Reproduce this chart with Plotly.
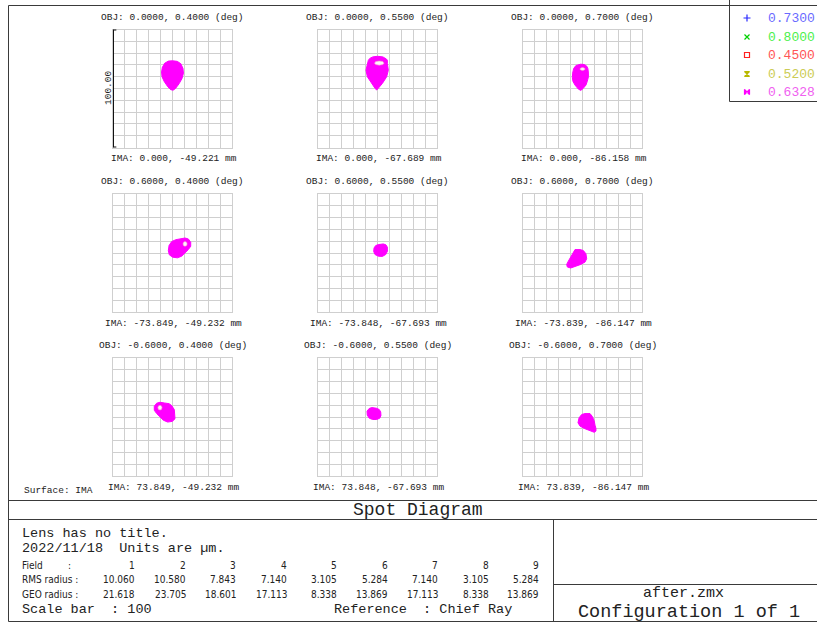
import plotly.graph_objects as go

W, H = 817, 623

# ---------------- data ----------------
obj_titles = [
    "OBJ: 0.0000, 0.4000 (deg)", "OBJ: 0.0000, 0.5500 (deg)", "OBJ: 0.0000, 0.7000 (deg)",
    "OBJ: 0.6000, 0.4000 (deg)", "OBJ: 0.6000, 0.5500 (deg)", "OBJ: 0.6000, 0.7000 (deg)",
    "OBJ: -0.6000, 0.4000 (deg)", "OBJ: -0.6000, 0.5500 (deg)", "OBJ: -0.6000, 0.7000 (deg)",
]
ima_titles = [
    "IMA: 0.000, -49.221 mm", "IMA: 0.000, -67.689 mm", "IMA: 0.000, -86.158 mm",
    "IMA: -73.849, -49.232 mm", "IMA: -73.848, -67.693 mm", "IMA: -73.839, -86.147 mm",
    "IMA: 73.849, -49.232 mm", "IMA: 73.848, -67.693 mm", "IMA: 73.839, -86.147 mm",
]

# spot outlines (µm, relative to chief ray)
spot1_x = [0, 4, 7, 8.8, 9.2, 8, 5.5, 2.5, 0.5, -1.5, -4, -7, -8.8, -9.2, -8.5, -6.5, -3.5]
spot1_y = [23.5, 23, 21, 17, 13, 8.5, 4, 0, -1.4, -1, 1.5, 6, 10, 14, 18, 21.5, 23.2]
spot2_x = [0, 4.5, 7.5, 8.3, 8.3, 9.1, 7.7, 4.1, 0.5, -0.7, -2, -4.9, -8.5, -9.7, -8.5, -7.7, -6.5, -4]
spot2_y = [27.3, 26.8, 25, 23.9, 21.1, 15.5, 9.9, 4.3, 0, -1.3, 0, 4.3, 9.9, 15.5, 21.1, 23.9, 25.5, 26.8]
spot3_x = [-1.5, 1.5, 3.5, 4.5, 4.9, 5, 4, 2.9, 0.5, -1.5, -3.5, -6.3, -8, -8.5, -8.3, -7.4, -5.5, -3.5]
spot3_y = [20.6, 20.3, 19, 17, 14, 10, 6, 2.9, 0, -1.6, -0.5, 2.9, 6, 9, 13, 17, 19.5, 20.4]
spot4_x = [10.5, 13.3, 15.3, 15.3, 13.3, 10.5, 7.7, 4.1, 0.1, -2.7, -3.5, -2.9, -0.7, 2.9, 6.9]
spot4_y = [12.7, 11.9, 9.1, 5.7, 2.9, 0.1, -2.7, -4.1, -3.5, -1.5, 2.1, 6.3, 9.7, 11.3, 11.9]
spot5_x = [0.7, 4.9, 7.1, 8.3, 8.3, 6.9, 4.1, 0.7, -2.1, -3.2, -2.9, -1.5]
spot5_y = [7.1, 7.7, 6.9, 4.9, 1.5, -1.3, -2.9, -2.7, -1.3, 1.3, 4.3, 6.3]
spot6_x = [-6.3, -2.1, 0.7, 2.9, 3.5, 2.1, -1.5, -6.3, -9.9, -12.7, -13.3, -11.9, -9.9, -8.3]
spot6_y = [2.9, 2.9, 2.1, -0.7, -4.9, -7.7, -9.7, -11.3, -12.7, -11.9, -9.7, -6.9, -3.5, 0.4]
spot7_x = [-10.5, -13.3, -15.3, -15.3, -13.3, -10.5, -7.7, -4.1, -0.1, 2.1, 2.1, 1.5, -0.7, -2.9, -6.9]
spot7_y = [12.5, 11.7, 9.1, 5.7, 2.9, 0.1, -2.7, -4.3, -3.7, -1.5, 2.1, 6.3, 9.7, 11.3, 11.9]
spot8_x = [-0.7, -4.9, -7.1, -8.8, -8.6, -6.9, -4.1, -0.7, 1.9, 2.9, 2.7, 1.5]
spot8_y = [7.4, 8.0, 7.1, 4.9, 1.5, -1.0, -2.1, -2.1, -1.0, 1.3, 4.3, 6.3]
spot9_x = [6.3, 2.1, -0.7, -2.9, -3.8, -2.1, 1.5, 6.3, 9.9, 11.3, 11.3, 10.5, 9.9, 8.3]
spot9_y = [2.9, 2.9, 2.1, -0.7, -4.9, -7.7, -9.7, -11.3, -13.0, -11.9, -9.7, -6.9, -3.5, 0.4]

# white gaps inside the ring-shaped spots
hole2_x = [-2.5, -1.5, 1.5, 4.5, 5.5, 4.5, 1.5, -1.5]
hole2_y = [21.5, 22.8, 23.3, 22.8, 21.5, 20.3, 19.8, 20.3]
hole3_x = [-2.2, -1.5, 0, 1.5, 2.2, 1.5, 0, -1.5]
hole3_y = [16.5, 17.4, 17.7, 17.4, 16.5, 15.6, 15.3, 15.6]
hole4_x = [9.3, 10.5, 11.8, 12.3, 11.8, 10.5, 9.3, 8.8]
hole4_y = [9.2, 9.7, 9.2, 7.7, 6.2, 5.7, 6.2, 7.7]
hole7_x = [-9.3, -10.5, -11.8, -12.3, -11.8, -10.5, -9.3, -8.8]
hole7_y = [9.4, 9.9, 9.4, 7.9, 6.4, 5.9, 6.4, 7.9]

field_numbers = ["1", "2", "3", "4", "5", "6", "7", "8", "9"]
rms_radius = ["10.060", "10.580", "7.843", "7.140", "3.105", "5.284", "7.140", "3.105", "5.284"]
geo_radius = ["21.618", "23.705", "18.601", "17.113", "8.338", "13.869", "17.113", "8.338", "13.869"]

wavelengths = ["0.7300", "0.8000", "0.4500", "0.5200", "0.6328"]
wave_text_colors = ["#6a6aff", "#4cf04c", "#ff5555", "#cccc55", "#f060f0"]
wave_mark_colors = ["#2828ff", "#00d000", "#ff2020", "#b8b800", "#ff00ff"]
wave_symbols = ["cross-thin", "x-thin", "square-open", "hourglass", "bowtie"]

spots = [
    (spot1_x, spot1_y, [], []),
    (spot2_x, spot2_y, hole2_x, hole2_y),
    (spot3_x, spot3_y, hole3_x, hole3_y),
    (spot4_x, spot4_y, hole4_x, hole4_y),
    (spot5_x, spot5_y, [], []),
    (spot6_x, spot6_y, [], []),
    (spot7_x, spot7_y, hole7_x, hole7_y),
    (spot8_x, spot8_y, [], []),
    (spot9_x, spot9_y, [], []),
]

# ---------------- layout geometry (pixels) ----------------
col_x = [(113, 232), (318, 437), (523, 642)]
row_y = [(29.5, 147.5), (194, 312), (358, 476)]
MONO = "Liberation Mono, Courier New, monospace"
TXT = "#222222"

fig = go.Figure()
layout = dict(width=W, height=H, margin=dict(l=0, r=0, t=0, b=0),
              paper_bgcolor="white", plot_bgcolor="rgba(0,0,0,0)",
              showlegend=False, annotations=[], shapes=[])

for i in range(9):
    r, c = divmod(i, 3)
    x0, x1 = col_x[c]
    y0, y1 = row_y[r]
    xa = "xaxis" if i == 0 else f"xaxis{i+1}"
    ya = "yaxis" if i == 0 else f"yaxis{i+1}"
    xr = "x" if i == 0 else f"x{i+1}"
    yr = "y" if i == 0 else f"y{i+1}"
    common = dict(range=[-50, 50], tick0=-50, dtick=10, showgrid=True, gridcolor="#cfcfcf",
                  gridwidth=1, zeroline=False, showline=True, linecolor="#cfcfcf", mirror=True,
                  showticklabels=False, ticks="", fixedrange=True)
    layout[xa] = dict(domain=[x0 / W, x1 / W], anchor=yr, **common)
    layout[ya] = dict(domain=[1 - y1 / H, 1 - y0 / H], anchor=xr, **common)
    sx, sy, hx, hy = spots[i]
    fig.add_trace(go.Scatter(x=sx + sx[:1], y=sy + sy[:1], mode="lines", fill="toself",
                             fillcolor="#ff00ff", line=dict(color="#ff00ff", width=1),
                             xaxis=xr, yaxis=yr, hoverinfo="skip"))
    if hx:
        fig.add_trace(go.Scatter(x=hx + hx[:1], y=hy + hy[:1], mode="lines", fill="toself",
                                 fillcolor="#fff0fa", line=dict(color="#f0a0c8", width=0.6),
                                 xaxis=xr, yaxis=yr, hoverinfo="skip"))
    cx = (x0 + x1) / 2
    layout["annotations"].append(dict(x=cx, y=y0 - 12.5, xref="x10", yref="y10", text=obj_titles[i],
                                      showarrow=False, xanchor="center", yanchor="middle",
                                      font=dict(family=MONO, size=9.5, color=TXT)))
    layout["annotations"].append(dict(x=cx + 1, y=y1 + 11, xref="x10", yref="y10", text=ima_titles[i],
                                      showarrow=False, xanchor="center", yanchor="middle",
                                      font=dict(family=MONO, size=9.5, color=TXT)))

# overlay axis in pixel units
layout["xaxis10"] = dict(domain=[0, 1], range=[0, W], visible=False, fixedrange=True, anchor="y10")
layout["yaxis10"] = dict(domain=[0, 1], range=[H, 0], visible=False, fixedrange=True, anchor="x10")

# scale bar on first plot
sb = dict(type="line", xref="x", yref="y", line=dict(color="#111111", width=2))
layout["shapes"].append(dict(sb, x0=-50, x1=-50, y0=-50, y1=50))
layout["shapes"].append(dict(sb, x0=-52.8, x1=-47.2, y0=50, y1=50))
layout["shapes"].append(dict(sb, x0=-52.8, x1=-47.2, y0=-50, y1=-50))
layout["annotations"].append(dict(x=108, y=88, xref="x10", yref="y10", text="100.00", textangle=-90,
                                  showarrow=False, font=dict(family=MONO, size=9.5, color=TXT)))

layout["annotations"].append(dict(x=22, y=490, xref="x10", yref="y10", text="Surface: IMA",
                                  showarrow=False, xanchor="left", yanchor="middle",
                                  font=dict(family=MONO, size=9.5, color=TXT)))

# frame lines
def hline(y, xa, xb):
    return dict(type="line", xref="x10", yref="y10", x0=xa, x1=xb, y0=y, y1=y,
                line=dict(color="#3a3a3a", width=1))

def vline(x, ya, yb):
    return dict(type="line", xref="x10", yref="y10", x0=x, x1=x, y0=ya, y1=yb,
                line=dict(color="#3a3a3a", width=1))

layout["shapes"] += [
    hline(5.5, 8.5, 820), vline(8.5, 5.5, 621.5), hline(621.5, 8.5, 820),
    hline(500.5, 8.5, 820), hline(519.5, 8.5, 820), vline(553.5, 519.5, 621.5),
    hline(584.5, 553.5, 820),
]

# legend box
layout["shapes"].append(dict(type="rect", xref="x10", yref="y10", x0=729.5, x1=830, y0=-2, y1=101.5,
                             fillcolor="white", layer="below", line=dict(color="#3a3a3a", width=1)))
leg_y = [18, 37, 55, 74, 92]
fig.add_trace(go.Scatter(x=[747] * 5, y=leg_y, mode="markers", xaxis="x10", yaxis="y10",
                         marker=dict(symbol=wave_symbols, size=5, color=wave_mark_colors,
                                     line=dict(color=wave_mark_colors, width=1.2)),
                         hoverinfo="skip"))
for k in range(5):
    layout["annotations"].append(dict(x=766, y=leg_y[k], xref="x10", yref="y10", text=wavelengths[k],
                                      showarrow=False, xanchor="left", yanchor="middle",
                                      font=dict(family=MONO, size=13, color=wave_text_colors[k])))

# bottom text block
def txt(x, y, s, size, anchor="left", fam=MONO):
    return dict(x=x, y=y, xref="x10", yref="y10", text=s, showarrow=False, xanchor=anchor,
                yanchor="middle", font=dict(family=fam, size=size, color=TXT))

layout["annotations"] += [
    txt(418, 510, "Spot Diagram", 18, "center"),
    txt(20, 533, "Lens has no title.", 13.5),
    txt(20, 548, "2022/11/18  Units are µm.", 13.5),
    txt(20, 609, "Scale bar  : 100", 13.5),
    txt(332, 609, "Reference  : Chief Ray", 13.5),
    txt(683, 593, "after.zmx", 15),
    txt(689, 612, "Configuration 1 of 1", 18.5, "center"),
]
layout["annotations"][-2]["xanchor"] = "center"

NARROW = "Liberation Sans Narrow, DejaVu Sans Condensed, Liberation Serif, serif"
tbl_y = [565, 579, 594]
layout["annotations"] += [
    txt(20, tbl_y[0], "Field", 10, fam=NARROW), txt(66, tbl_y[0], ":", 10, fam=NARROW),
    txt(20, tbl_y[1], "RMS radius :", 10, fam=NARROW),
    txt(20, tbl_y[2], "GEO radius :", 10, fam=NARROW),
]
col_right = [137, 187.5, 238, 288.5, 339, 389.5, 440, 490.5, 541]
for k in range(9):
    layout["annotations"] += [
        txt(col_right[k], tbl_y[0], field_numbers[k], 10, "right", NARROW),
        txt(col_right[k], tbl_y[1], rms_radius[k], 10, "right", NARROW),
        txt(col_right[k], tbl_y[2], geo_radius[k], 10, "right", NARROW),
    ]

fig.update_layout(**layout)
fig.write_html("out.html", config={"displayModeBar": False},
               post_script="document.body.style.margin='0';document.body.style.overflow='hidden';")
